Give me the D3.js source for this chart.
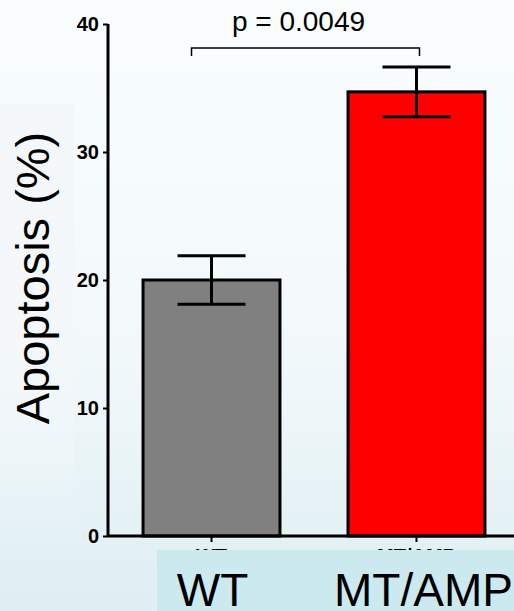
<!DOCTYPE html>
<html>
<head>
<meta charset="utf-8">
<script src="https://cdn.jsdelivr.net/npm/d3@7"></script>
<style>
  html, body { margin: 0; padding: 0; background: #f8fdfe; }
  svg { display: block; }
</style>
</head>
<body>
<div id="chart"></div>
<script>
// Data
const categories = ["WT", "MT/AMP"]
const means = [20.0, 34.7]
const sems = [1.9, 1.95]
const barColors = ["#808080", "#ff0000"]
const yTicks = [0, 10, 20, 30, 40]
const pLabel = "p = 0.0049"

const width = 514
const height = 611

const svg = d3.select("#chart").append("svg")
  .attr("width", width)
  .attr("height", height)

// Slide-like background
const defs = svg.append("defs")
const bg = defs.append("linearGradient")
  .attr("id", "bg").attr("x1", 0).attr("y1", 0).attr("x2", 0).attr("y2", 1)
bg.append("stop").attr("offset", "0%").attr("stop-color", "#f9fdfe")
bg.append("stop").attr("offset", "55%").attr("stop-color", "#f3f9fb")
bg.append("stop").attr("offset", "100%").attr("stop-color", "#deeef3")

const side = defs.append("linearGradient")
  .attr("id", "side").attr("x1", 0).attr("y1", 0).attr("x2", 0).attr("y2", 1)
side.append("stop").attr("offset", "0%").attr("stop-color", "#f4f7fa").attr("stop-opacity", 1)
side.append("stop").attr("offset", "70%").attr("stop-color", "#f4f7fa").attr("stop-opacity", 0.6)
side.append("stop").attr("offset", "100%").attr("stop-color", "#f4f7fa").attr("stop-opacity", 0)

svg.append("rect").attr("width", width).attr("height", height).attr("fill", "url(#bg)")
svg.append("rect").attr("x", 0).attr("y", 104).attr("width", 74).attr("height", 420)
  .attr("fill", "url(#side)")

// Scales
const y = d3.scaleLinear().domain([0, 40]).range([536, 24])
const x = d3.scaleBand().domain(categories)
  .range([108, 520])
  .paddingInner(0.332)
  .paddingOuter(0.171)
const bw = x.bandwidth()

const font = "'Liberation Sans', Arial, Helvetica, sans-serif"

// Bars
svg.append("g")
  .selectAll("rect")
  .data(categories)
  .enter().append("rect")
  .attr("x", d => x(d))
  .attr("y", (d, i) => y(means[i]))
  .attr("width", bw)
  .attr("height", (d, i) => y(0) - y(means[i]))
  .attr("fill", (d, i) => barColors[i])
  .attr("stroke", "#000")
  .attr("stroke-width", 3)

// Error bars
const capHalf = 34
const err = svg.append("g")
  .attr("stroke", "#000")
  .attr("stroke-width", 3)
categories.forEach((c, i) => {
  const cx = x(c) + bw / 2
  const hi = y(means[i] + sems[i])
  const lo = y(means[i] - sems[i])
  err.append("line").attr("x1", cx).attr("x2", cx).attr("y1", hi).attr("y2", lo)
  err.append("line").attr("x1", cx - capHalf).attr("x2", cx + capHalf).attr("y1", hi).attr("y2", hi)
  err.append("line").attr("x1", cx - capHalf).attr("x2", cx + capHalf).attr("y1", lo).attr("y2", lo)
})

// Y axis
const yAxis = svg.append("g")
  .attr("transform", "translate(108,0)")
  .call(d3.axisLeft(y).tickValues(yTicks).tickSize(5).tickPadding(4))
yAxis.attr("font-size", null).attr("font-family", null)
yAxis.select(".domain").attr("stroke-width", 3).attr("d", `M0,${y(40)}V${y(0)}`)
yAxis.selectAll(".tick line").attr("stroke-width", 2)
yAxis.selectAll(".tick text")
  .style("font-family", font)
  .style("font-size", "20px")
  .style("font-weight", "bold")
  .attr("fill", "#000")

// X axis (its own labels sit mostly under the slide box, as in the reference)
const xAxis = svg.append("g")
  .attr("transform", `translate(0,${y(0)})`)
  .call(d3.axisBottom(x).tickSize(6).tickPadding(6))
xAxis.attr("font-size", null).attr("font-family", null)
xAxis.select(".domain").attr("stroke-width", 3).attr("d", "M108,0H520")
xAxis.selectAll(".tick line").attr("stroke-width", 2)
xAxis.selectAll(".tick text")
  .style("font-family", font)
  .style("font-size", "20px")
  .style("font-weight", "bold")
  .attr("fill", "#000")
  .attr("y", 27)
  .attr("dy", 0)

// Slide label box covering the original axis labels
svg.append("rect")
  .attr("x", 157).attr("y", 550)
  .attr("width", width - 157).attr("height", height - 550)
  .attr("fill", "#cde9f0")

svg.append("g")
  .selectAll("text")
  .data(categories)
  .enter().append("text")
  .attr("x", (d, i) => x(d) + bw / 2 + (i === 0 ? 1 : 7))
  .attr("y", 606)
  .attr("text-anchor", "middle")
  .style("font-family", font)
  .style("font-size", "46px")
  .attr("fill", "#000")
  .text(d => d)

// Y label
svg.append("text")
  .attr("transform", "translate(49,278) rotate(-90)")
  .attr("text-anchor", "middle")
  .style("font-family", font)
  .style("font-size", "47px")
  .attr("fill", "#000")
  .text("Apoptosis (%)")

// Significance bracket
const bx1 = x(categories[0]) + bw / 2 - 20
const bx2 = x(categories[1]) + bw / 2 + 3
const by = 48
svg.append("path")
  .attr("d", `M${bx1},${by + 8}V${by}H${bx2}V${by + 8}`)
  .attr("fill", "none")
  .attr("stroke", "#000")
  .attr("stroke-width", 1.5)
svg.append("text")
  .attr("x", (bx1 + bx2) / 2 - 7)
  .attr("y", 31)
  .attr("text-anchor", "middle")
  .style("font-family", font)
  .style("font-size", "28px")
  .attr("fill", "#000")
  .text(pLabel)
</script>
</body>
</html>
